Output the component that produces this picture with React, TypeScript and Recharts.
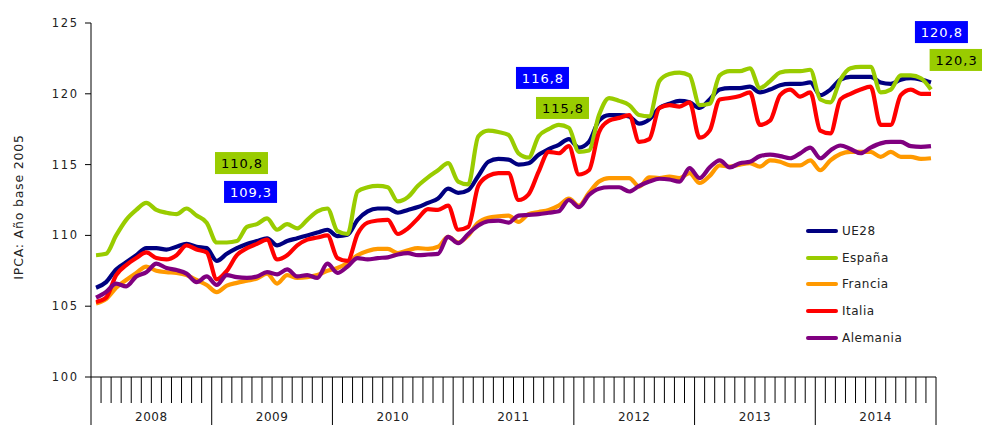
import React from "react";
import { LineChart, Line, XAxis, YAxis, ReferenceDot } from "recharts";

const years = ["2008", "2009", "2010", "2011", "2012", "2013", "2014"];

// IPCA monthly, Jan 2008 .. Dec 2014 (base 2005)
const ue28 = [
  106.3, 106.7, 107.6, 108.1, 108.6, 109.1, 109.1, 109.0, 109.2, 109.4, 109.2, 109.1,
  108.2, 108.7, 109.1, 109.4, 109.6, 109.8, 109.3, 109.6, 109.8, 110.0, 110.2, 110.4,
  109.95, 110.05, 111.1, 111.7, 111.9, 111.9, 111.6, 111.8, 112.0, 112.3, 112.6, 113.3,
  113.0, 113.2, 114.2, 115.2, 115.4, 115.35, 115.0, 115.1, 115.7, 116.1, 116.4, 116.8,
  116.2, 116.6, 118.1, 118.5, 118.5, 118.4, 117.9, 118.2, 119.0, 119.3, 119.5, 119.4,
  119.0, 119.6, 120.3, 120.4, 120.4, 120.5, 120.1, 120.3, 120.6, 120.7, 120.7, 120.8,
  119.9, 120.3, 121.0, 121.2, 121.2, 121.2, 120.8, 120.7, 121.0, 121.1, 121.0, 120.8,
];
const espana = [
  108.6, 108.7, 110.0, 111.1, 111.8, 112.3, 111.8, 111.6, 111.5, 111.9, 111.4, 110.9,
  109.5, 109.5, 109.6, 110.6, 110.8, 111.2, 110.4, 110.8, 110.5, 111.1, 111.7, 111.9,
  110.3, 110.1, 113.1, 113.4, 113.5, 113.4, 112.4, 112.7, 113.5, 114.1, 114.6, 115.1,
  113.8, 113.6, 117.0, 117.4, 117.3, 117.1, 115.8, 115.5, 117.0, 117.5, 117.8, 117.6,
  115.9, 116.0, 118.5, 119.7, 119.5, 119.2, 118.5, 118.4, 120.9, 121.4, 121.5, 121.3,
  119.2, 119.3, 121.3, 121.6, 121.6, 121.8, 120.4, 120.9, 121.5, 121.6, 121.6, 121.7,
  119.6, 119.4, 121.0, 121.8, 121.9, 121.9, 120.1, 120.3, 121.3, 121.3, 121.1, 120.3,
];
const francia = [
  105.2, 105.5, 106.3, 106.85, 107.35, 107.8, 107.5, 107.4, 107.35, 107.2, 106.85, 106.5,
  106.0, 106.45, 106.65, 106.8, 106.95, 107.3, 106.6, 107.2, 107.0, 107.05, 107.2, 107.5,
  107.7, 108.05, 108.6, 108.9, 109.05, 109.05, 108.75, 108.95, 109.1, 109.05, 109.2, 109.9,
  109.5, 110.0, 110.9, 111.25, 111.35, 111.4, 110.95, 111.5, 111.65, 111.8, 112.1, 112.6,
  112.1, 113.0, 113.8, 114.05, 114.05, 114.05, 113.45, 114.1, 114.05, 114.15, 114.05, 114.4,
  113.7, 114.2, 114.95, 114.85, 115.0, 115.1, 114.85, 115.3, 115.2, 114.95, 114.95, 115.3,
  114.6, 115.3, 115.75, 115.9, 115.9, 115.9, 115.55, 115.9, 115.55, 115.55, 115.4, 115.45,
];
const italia = [
  105.3, 105.6, 107.2, 107.9, 108.4, 108.8, 108.4, 108.3, 108.6, 109.3, 109.0, 108.8,
  106.9, 107.5, 108.6, 109.1, 109.4, 109.7, 108.3, 108.6, 109.3, 109.7, 109.85, 110.0,
  108.4, 108.2, 110.1, 110.9, 111.05, 111.1, 110.1, 110.5, 111.2, 111.85, 111.8, 112.1,
  110.4, 110.6, 113.5, 114.2, 114.4, 114.4, 112.5, 112.9, 114.5, 115.9, 115.8, 116.3,
  114.3, 114.6, 117.3, 118.1, 118.3, 118.5, 116.6, 116.8, 119.0, 119.2, 119.1, 119.4,
  116.9, 117.4, 119.6, 119.7, 119.85, 120.1, 117.8, 118.1, 119.9, 120.3, 119.8, 120.1,
  117.4, 117.2, 119.6, 120.0, 120.3, 120.5, 117.8, 117.8, 119.9, 120.3, 120.0, 120.0,
];
const alemania = [
  105.6, 106.0, 106.6, 106.4, 107.1, 107.4, 108.0, 107.7, 107.55, 107.3, 106.7, 107.1,
  106.5, 107.2, 107.05, 107.0, 107.1, 107.4, 107.25, 107.6, 107.1, 107.2, 107.0, 108.0,
  107.35, 107.8, 108.4, 108.3, 108.4, 108.45, 108.65, 108.75, 108.6, 108.65, 108.7, 109.9,
  109.45, 110.1, 110.7, 111.0, 111.05, 110.9, 111.4, 111.45, 111.5, 111.6, 111.7, 112.5,
  112.0, 112.85, 113.3, 113.4, 113.4, 113.1, 113.5, 113.8, 114.0, 113.95, 113.8, 114.75,
  114.05, 114.8, 115.3, 114.8, 115.1, 115.2, 115.6, 115.7, 115.6, 115.45, 115.8, 116.2,
  115.45, 116.0, 116.35, 116.1, 115.8, 116.2, 116.5, 116.6, 116.6, 116.3, 116.25, 116.3,
];

const series = [
  { key: "ue28", name: "UE28", color: "#000080", values: ue28 },
  { key: "espana", name: "España", color: "#99CC00", values: espana },
  { key: "francia", name: "Francia", color: "#FF9900", values: francia },
  { key: "italia", name: "Italia", color: "#FF0000", values: italia },
  { key: "alemania", name: "Alemania", color: "#800080", values: alemania },
];

// value call-outs (x in months from Jan 2008, y in index units)
const callouts = [
  { x: 14.96, y: 115.11, text: "110,8", bg: "#99CC00", fg: "#000" },
  { x: 15.86, y: 113.07, text: "109,3", bg: "#0000FF", fg: "#fff" },
  { x: 44.88, y: 121.12, text: "116,8", bg: "#0000FF", fg: "#fff" },
  { x: 46.87, y: 119.0, text: "115,8", bg: "#99CC00", fg: "#000" },
  { x: 84.54, y: 124.36, text: "120,8", bg: "#0000FF", fg: "#fff" },
  { x: 86.0, y: 122.39, text: "120,3", bg: "#99CC00", fg: "#000" },
];

const data = ue28.map((_, i) => {
  const row: Record<string, number> = { x: i + 0.5 };
  series.forEach((s) => (row[s.key] = s.values[i]));
  return row;
});

const monthTicks = Array.from({ length: years.length * 12 + 1 }, (_, i) => i);
const font = "'DejaVu Sans', Verdana, sans-serif";

function MonthTick(props: any) {
  const { x, y, payload } = props;
  const v = payload.value as number;
  return (
    <g>
      {v % 12 === 0 && (
        <line x1={x} x2={x} y1={y} y2={y + 26} stroke="#000" />
      )}
      {v % 12 === 6 && (
        <text
          x={x}
          y={y + 18}
          textAnchor="middle"
          fontSize={12}
          fontFamily={font}
          letterSpacing={0.5}
          fill="#222"
        >
          {years[Math.floor(v / 12)]}
        </text>
      )}
    </g>
  );
}

function calloutShape(c: (typeof callouts)[number]) {
  return (props: any) => {
    const { cx, cy } = props;
    return (
      <g>
        <rect x={cx - 26.5} y={cy - 11} width={53} height={22} fill={c.bg} />
        <text
          x={cx + 0.5}
          y={cy + 5}
          textAnchor="middle"
          fill={c.fg}
          fontSize={13}
          fontFamily={font}
          letterSpacing={1}
        >
          {c.text}
        </text>
      </g>
    );
  };
}

function YLabel(props: any) {
  const vb = props.viewBox || {};
  const cy = (vb.y ?? 23) + (vb.height ?? 354) / 2 + 7;
  return (
    <text
      x={23}
      y={cy}
      transform={`rotate(-90, 23, ${cy})`}
      textAnchor="middle"
      fontSize={12.5}
      fontFamily={font}
      letterSpacing={0.8}
      fill="#222"
    >
      IPCA:  Año base 2005
    </text>
  );
}

export default function App() {
  return (
    <div
      style={{
        position: "absolute",
        left: 0,
        top: 0,
        width: 982,
        height: 425,
        background: "#fff",
        overflow: "hidden",
      }}
    >
      <LineChart
        width={982}
        height={425}
        data={data}
        margin={{ top: 23, right: 46, bottom: 0, left: 0 }}
      >
        <XAxis
          dataKey="x"
          type="number"
          domain={[0, 84]}
          ticks={monthTicks}
          interval={0}
          height={48}
          tickSize={26}
          tickMargin={0}
          stroke="#000"
          tick={<MonthTick />}
        />
        <YAxis
          type="number"
          domain={[100, 125]}
          ticks={[100, 105, 110, 115, 120, 125]}
          width={91}
          tickSize={6}
          tickMargin={6}
          stroke="#000"
          tick={{
            fontSize: 11.5,
            fill: "#222",
            fontFamily: font,
            letterSpacing: 1.8,
          }}
          label={(p: any) => <YLabel {...p} />}
        />
        {series.map((s) => (
          <Line
            key={s.key}
            dataKey={s.key}
            name={s.name}
            type="monotone"
            stroke={s.color}
            strokeWidth={4.2}
            strokeLinejoin="round"
            dot={false}
            activeDot={false}
            isAnimationActive={false}
          />
        ))}
        {callouts.map((c) => (
          <ReferenceDot
            key={c.text}
            x={c.x}
            y={c.y}
            r={0}
            ifOverflow="visible"
            shape={calloutShape(c)}
          />
        ))}
      </LineChart>

      <div style={{ position: "absolute", left: 806, top: 222 }}>
        {series.map((s, i) => (
          <div
            key={s.key}
            style={{
              position: "absolute",
              top: i * 26.7,
              left: 0,
              height: 18,
              display: "flex",
              alignItems: "center",
              whiteSpace: "nowrap",
            }}
          >
            <span
              style={{
                display: "inline-block",
                width: 32,
                height: 4,
                borderRadius: 2,
                background: s.color,
              }}
            />
            <span
              style={{
                marginLeft: 4,
                fontSize: 12,
                fontFamily: font,
                letterSpacing: 0.5,
                color: "#222",
              }}
            >
              {s.name}
            </span>
          </div>
        ))}
      </div>
    </div>
  );
}
